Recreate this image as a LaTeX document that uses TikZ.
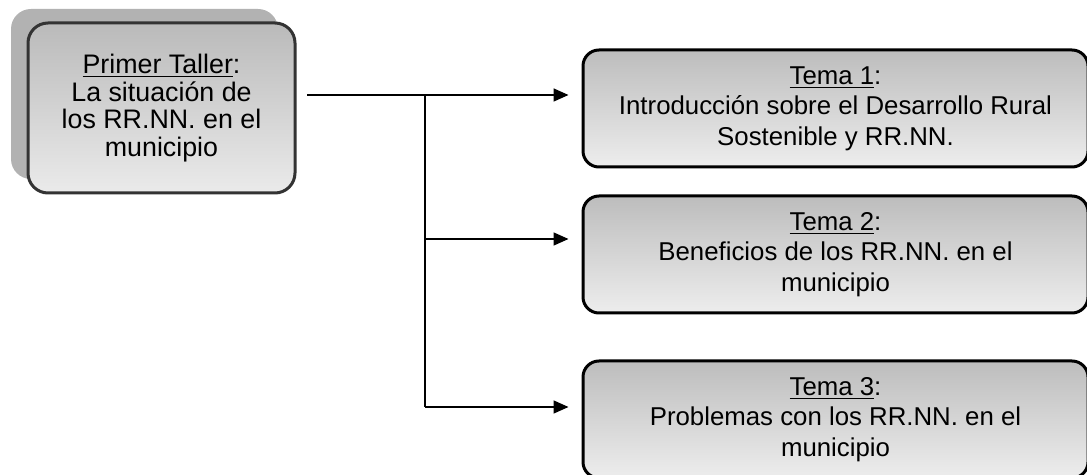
\documentclass[tikz,border=0pt]{standalone}
\usepackage{fontspec}
\setmainfont{Liberation Sans}
\usepackage{tikz}
\usetikzlibrary{
        arrows.meta,
        positioning,
        shadows
    }
\tikzset{>={Triangle[length=7.5pt,width=6.5pt]},x=0.5pt,y=-0.5pt,node distance=13pt}
\tikzset{
    taller/.style={draw=black!80, line width=1.5pt, rounded corners=10pt,
        top color=black!27, bottom color=black!8, align=center,
        minimum width=133.5pt, minimum height=85pt,
        font=\fontsize{13.4}{13.7}\selectfont,
        general shadow={shadow xshift=-8.5pt, shadow yshift=7pt, fill=black!30}},
    tema/.style={draw, line width=1.5pt, rounded corners=8pt,
        top color=black!26, bottom color=black!7, align=center,
        minimum width=252.5pt, minimum height=58.5pt,
        font=\fontsize{12.9}{15.2}\selectfont},
    flecha/.style={->, line width=0.8pt, shorten >=6.5pt},
    linea/.style={line width=0.8pt}
}

\begin{document}
\begin{tikzpicture}
            \clip (0,0) rectangle (1087,475);
            \node[taller] (t0) at (161.5,108) {\underline{Primer Taller}:\\La situación de\\los RR.NN. en el\\municipio};
            \node[tema] (t1) at (835.5,108.5) {\underline{Tema 1}:\\Introducción sobre el Desarrollo Rural\\Sostenible y RR.NN.};
            \node[tema] (t2) [below=of t1] {\underline{Tema 2}:\\Beneficios de los RR.NN. en el\\municipio};
            \node[tema] (t3) [below=22.5pt of t2] {\underline{Tema 3}:\\Problemas con los RR.NN. en el\\municipio};
            \coordinate (sal) at (307,95);
            \coordinate (j1) at (425,95);
            \coordinate (j2) at (425,239);
            \coordinate (j3) at (425,407);
            \draw[linea] (sal) -- (j1) -- (j3);
            \draw[flecha] (j1) -- (j1 -| t1.west);
            \draw[flecha] (j2) -- (j2 -| t2.west);
            \draw[flecha] (j3) -- (j3 -| t3.west);
        \end{tikzpicture}
\end{document}
